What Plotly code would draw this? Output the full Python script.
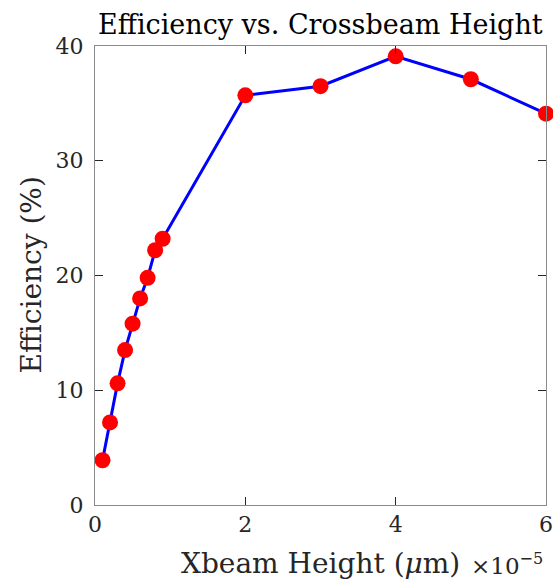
import plotly.graph_objects as go

x_vals = [0.1e-5, 0.2e-5, 0.3e-5, 0.4e-5, 0.5e-5, 0.6e-5, 0.7e-5, 0.8e-5, 0.9e-5,
          2e-5, 3e-5, 4e-5, 5e-5, 6e-5]
efficiency = [3.9, 7.2, 10.6, 13.5, 15.8, 18.0, 19.8, 22.2, 23.2,
              35.7, 36.5, 39.1, 37.1, 34.1]
x_ticks = [0, 2e-5, 4e-5, 6e-5]
x_tick_text = ["0", "2", "4", "6"]
y_ticks = [0, 10, 20, 30, 40]

FONT = "DejaVu Serif"

fig = go.Figure()
fig.add_trace(go.Scatter(
    x=x_vals, y=efficiency, mode="lines+markers",
    line=dict(color="#0000ff", width=3),
    marker=dict(color="#ff0000", size=16, line=dict(width=0)),
    cliponaxis=False, showlegend=False,
))

axis_common = dict(
    showgrid=False, zeroline=False, showline=True, linecolor="#8a8a8a", linewidth=1,
    mirror="ticks", ticks="inside", ticklen=8, tickcolor="#262626", tickwidth=1,
    tickfont=dict(family=FONT, size=22, color="#262626"), automargin=False,
)

fig.update_layout(
    width=553, height=585,
    margin=dict(l=94.5, r=7, t=46, b=80),
    plot_bgcolor="white", paper_bgcolor="white",
    xaxis=dict(range=[0, 6e-5], tickvals=x_ticks, ticktext=x_tick_text, **axis_common),
    yaxis=dict(range=[0, 40], tickvals=y_ticks, ticklabelstandoff=6, **axis_common),
    annotations=[
        dict(text="Efficiency vs. Crossbeam Height", xref="paper", yref="paper",
             x=0.5, y=1, yshift=4, xanchor="center", yanchor="bottom", showarrow=False,
             font=dict(family=FONT, size=27, color="black")),
        dict(text="Xbeam Height (<i>μ</i>m)", xref="paper", yref="paper",
             x=0.5, y=0, yshift=-40, xanchor="center", yanchor="top", showarrow=False,
             font=dict(family=FONT, size=28, color="#262626")),
        dict(text="×10<sup>−5</sup>", xref="paper", yref="paper",
             x=1, y=0, xshift=-1, yshift=-42, xanchor="right", yanchor="top", showarrow=False,
             font=dict(family=FONT, size=23, color="#262626")),
        dict(text="Efficiency (%)", xref="paper", yref="paper",
             x=0, y=0.5, xshift=-64, xanchor="center", yanchor="middle", textangle=-90,
             showarrow=False, font=dict(family=FONT, size=28, color="#262626")),
    ],
)

fig.write_html("out.html")
